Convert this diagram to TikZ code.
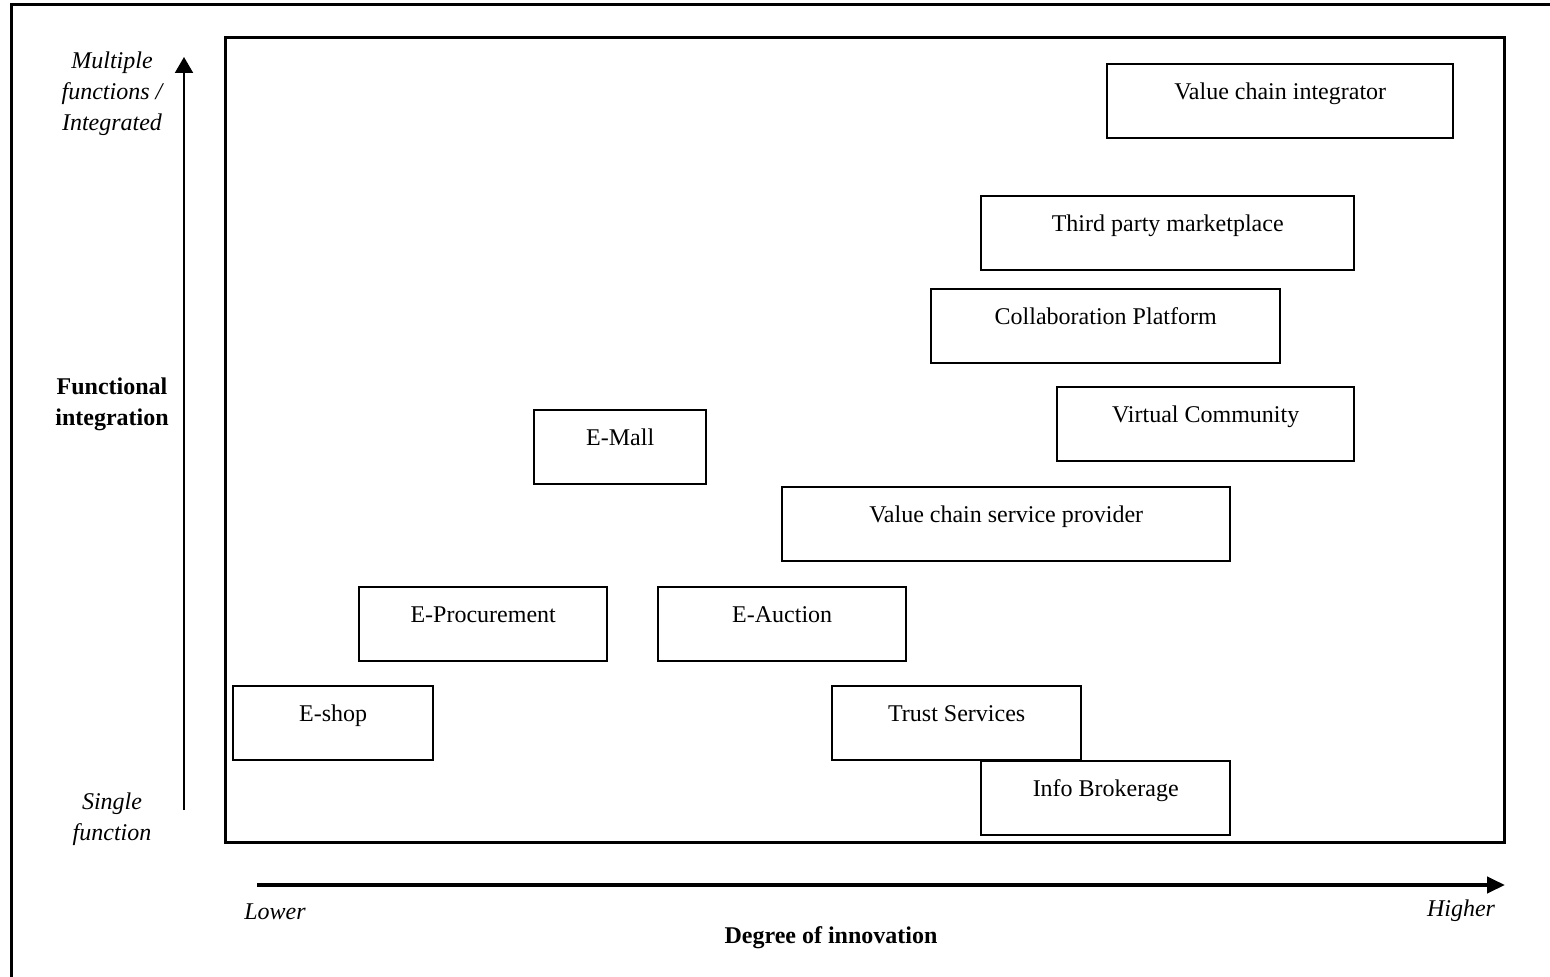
\documentclass[tikz,border=0pt]{standalone}
\usepackage{fontspec}
\setmainfont{Liberation Serif}
\usetikzlibrary{arrows.meta}

\tikzset{
  bx/.style={draw,line width=1.2pt,anchor=north west,inner sep=0pt,text height=17.5pt,text depth=19.5pt},
  axlbl/.style={align=center,font=\fontsize{12}{15.5}\selectfont\itshape},
  axhead/.style={align=center,font=\fontsize{12}{15.5}\selectfont\bfseries}
}

\begin{document}
\begin{tikzpicture}[x=0.5pt,y=-0.5pt,every node/.style={font=\fontsize{12}{15.5}\selectfont}]
  \useasboundingbox (0,0) rectangle (1550,977);
  \draw[line width=1.5pt] (1550,5) -- (11,5) -- (11,977);
  \draw[line width=1.5pt] (225,38) rectangle (1504,842);
  \coordinate (Ybot) at (184,810);
  \coordinate (Ytop) at (184,57);
  \coordinate (Xlow) at (257,885);
  \coordinate (Xhigh) at (1505,885);
  \draw[-{Triangle[length=8pt,width=9pt]},line width=1pt] (Ybot) -- (Ytop);
  \draw[-{Triangle[length=9pt,width=8pt]},line width=2pt] (Xlow) -- (Xhigh);
  \node[axlbl] (multi) at (112,94) {Multiple\\functions /\\Integrated};
  \node[axhead] (funcint) at (112,404) {Functional\\integration};
  \node[axlbl] (single) at (112,819) {Single\\function};
  \node[axlbl] (lower) at (275,912) {Lower};
  \node[axlbl] (higher) at (1461,911) {Higher};
  \node[axhead] (degree) at (831,938) {Degree of innovation};
  \foreach \nm/\px/\py/\bw/\txt in {
      vci/1106/63/173/Value chain integrator,
      tpm/980/195/186.5/Third party marketplace,
      collab/930/288/174.5/Collaboration Platform,
      vcomm/1056/386/148.5/Virtual Community,
      emall/533/409/86/E-Mall,
      vcsp/781/486/224/Value chain service provider,
      eproc/358/586/124/E-Procurement,
      eauct/657/586/124/E-Auction,
      eshop/232/685/100/E-shop,
      trust/831/685/124.5/Trust Services,
      info/980/760/124.5/Info Brokerage}
    \node[bx,minimum width=\bw pt] (\nm) at (\px,\py) {\txt};
\end{tikzpicture}
\end{document}
